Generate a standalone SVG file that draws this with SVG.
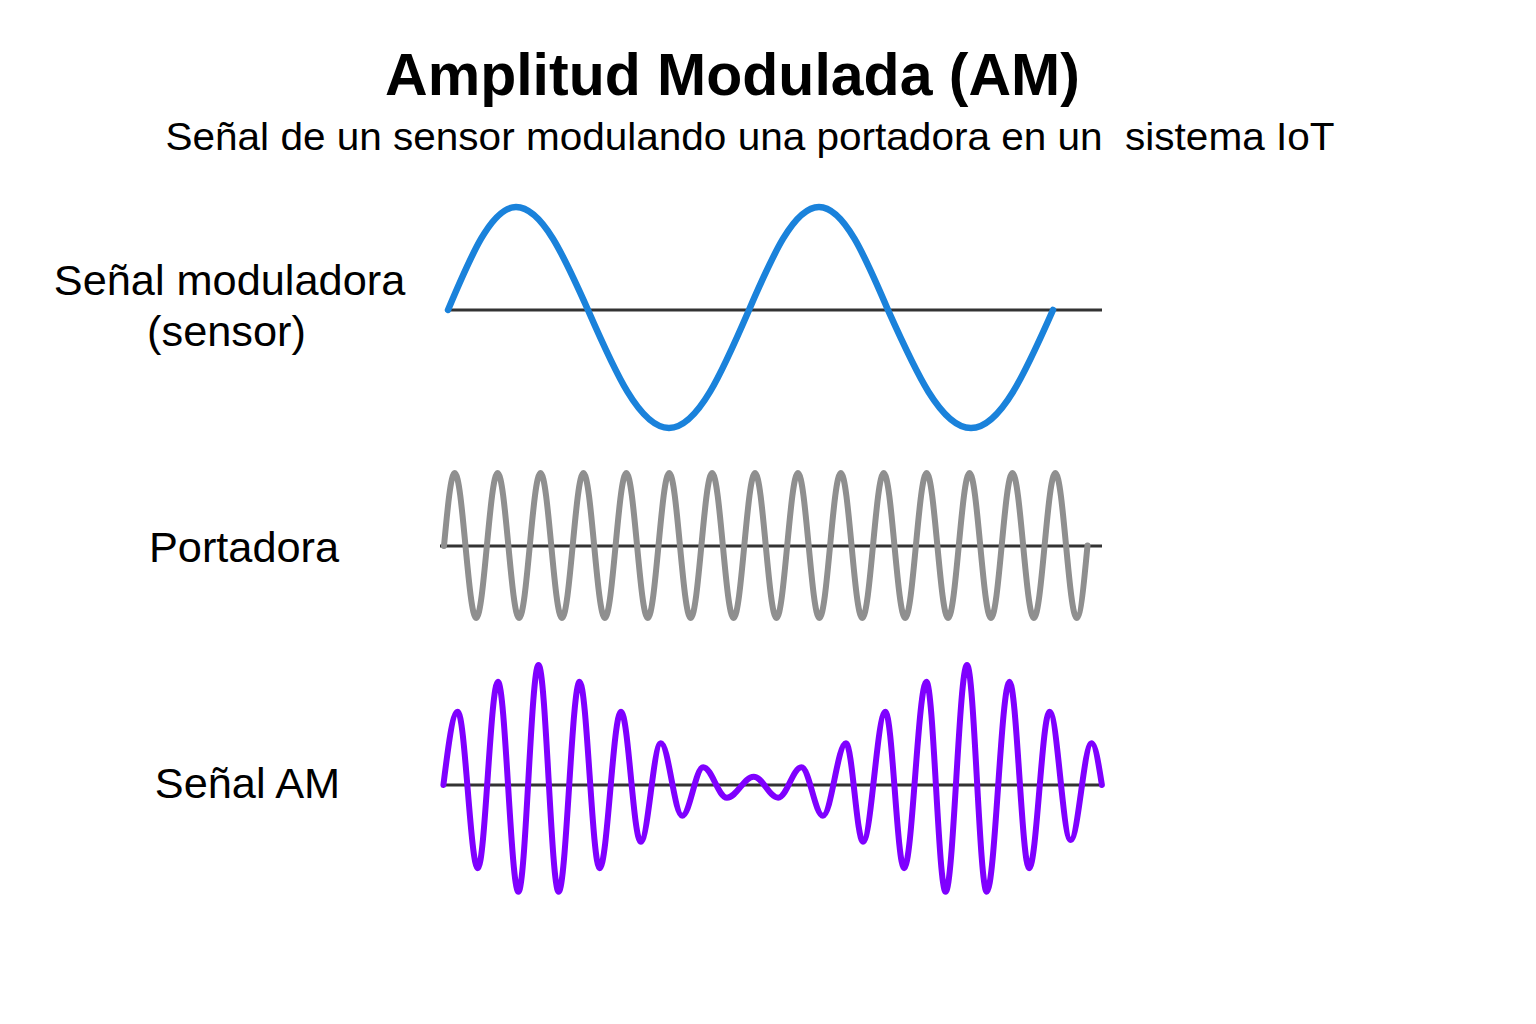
<svg xmlns="http://www.w3.org/2000/svg" width="1536" height="1024" viewBox="0 0 1536 1024">
<style>
.txt{font-family:"Liberation Sans",Arial,sans-serif;fill:#000;text-anchor:middle}
.title{font-size:59px;font-weight:bold}
.sub{font-size:38px;white-space:pre}
.lbl{font-size:43.3px}
.axis{stroke:#333;stroke-width:3;fill:none}
.wave{fill:none;stroke-linecap:round;stroke-linejoin:round}
</style>
<rect width="1536" height="1024" fill="#fff"/>
<g id="title"><text class="txt title" x="732.5" y="95">Amplitud Modulada (AM)</text></g>
<g id="subtitle"><text class="txt sub" x="750" y="150" textLength="1169" lengthAdjust="spacingAndGlyphs">Señal de un sensor modulando una portadora en un  sistema IoT</text></g>
<g id="label-moduladora"><text class="txt lbl" x="229.5" y="295">Señal moduladora</text><text class="txt lbl" x="226.5" y="346">(sensor)</text></g>
<g id="label-portadora"><text class="txt lbl" x="244" y="562">Portadora</text></g>
<g id="label-am"><text class="txt lbl" x="247.5" y="798">Señal AM</text></g>
<g id="connectors">
<line class="axis" x1="448" y1="310" x2="1102" y2="310"/>
<line class="axis" x1="440" y1="546" x2="1102" y2="546"/>
<line class="axis" x1="442" y1="785" x2="1102" y2="785"/>
</g>
<g id="wave-moduladora">
<path class="wave" stroke="#1a82db" stroke-width="6.5" d="M448,310 C470.2,257.2 491.4,207 516,207 C542.1,207 564.5,257.2 588,310 C614.4,370.5 639.7,428 669,428 C698,428 722.9,370.5 749,310 C771.8,257.2 793.7,207 819,207 C844,207 865.5,257.2 888,310 C915.1,370.5 941,428 971,428 C1000.7,428 1026.3,370.5 1053,310"/>
</g>
<g id="wave-portadora">
<path class="wave" stroke="#8f8f8f" stroke-width="6" d="M444,546 c3.497,-37.4 6.844,-73 10.725,-73 c7.795,0 13.655,145 21.45,145 c7.795,0 13.655,-145 21.45,-145 c7.795,0 13.655,145 21.45,145 c7.795,0 13.655,-145 21.45,-145 c7.795,0 13.655,145 21.45,145 c7.795,0 13.655,-145 21.45,-145 c7.795,0 13.655,145 21.45,145 c7.795,0 13.655,-145 21.45,-145 c7.795,0 13.655,145 21.45,145 c7.795,0 13.655,-145 21.45,-145 c7.795,0 13.655,145 21.45,145 c7.795,0 13.655,-145 21.45,-145 c7.795,0 13.655,145 21.45,145 c7.795,0 13.655,-145 21.45,-145 c7.795,0 13.655,145 21.45,145 c7.795,0 13.655,-145 21.45,-145 c7.795,0 13.655,145 21.45,145 c7.795,0 13.655,-145 21.45,-145 c7.795,0 13.655,145 21.45,145 c7.795,0 13.655,-145 21.45,-145 c7.795,0 13.655,145 21.45,145 c7.795,0 13.655,-145 21.45,-145 c7.795,0 13.655,145 21.45,145 c7.795,0 13.655,-145 21.45,-145 c7.795,0 13.655,145 21.45,145 c7.795,0 13.655,-145 21.45,-145 c7.795,0 13.655,145 21.45,145 c7.795,0 13.655,-145 21.45,-145 c7.795,0 13.655,145 21.45,145 c3.881,0 7.228,-35.36 10.725,-72.5"/>
</g>
<g id="wave-am">
<path class="wave" stroke="#7f00ff" stroke-width="6" d="M443.4,785 C448.06,747.45 452.52,711.7 457.7,711.7 C465,711.7 470.5,868.3 477.8,868.3 C485.1,868.3 490.6,681.7 497.9,681.7 C505.35,681.7 510.95,891.7 518.4,891.7 C525.7,891.7 531.2,665 538.5,665 C545.8,665 551.3,891.7 558.6,891.7 C566.23,891.7 571.97,681.7 579.6,681.7 C586.87,681.7 592.33,868.3 599.6,868.3 C607.38,868.3 613.22,711.7 621,711.7 C628.16,711.7 633.54,841.7 640.7,841.7 C648,841.7 653.5,743.3 660.8,743.3 C668.58,743.3 674.42,815.7 682.2,815.7 C689.83,815.7 695.57,767.3 703.2,767.3 C711.81,767.3 718.29,797.7 726.9,797.7 C736.64,797.7 743.96,776.7 753.7,776.7 C762.6,776.7 769.3,797.7 778.2,797.7 C786.63,797.7 792.97,767.3 801.4,767.3 C809.21,767.3 815.09,815.7 822.9,815.7 C831.29,815.7 837.61,743.3 846,743.3 C852.18,743.3 856.82,841.7 863,841.7 C871.14,841.7 877.26,711.7 885.4,711.7 C892.2,711.7 897.3,868.3 904.1,868.3 C912.2,868.3 918.3,681.7 926.4,681.7 C933.38,681.7 938.62,891.7 945.6,891.7 C953.38,891.7 959.22,665 967,665 C974.16,665 979.54,891.7 986.7,891.7 C994.99,891.7 1001.21,681.7 1009.5,681.7 C1016.62,681.7 1021.98,868.3 1029.1,868.3 C1036.55,868.3 1042.15,711.7 1049.6,711.7 C1057.23,711.7 1062.97,840 1070.6,840 C1078.23,840 1083.97,743.3 1091.6,743.3 C1095.33,743.3 1098.54,763.64 1101.9,785"/>
</g>
</svg>
